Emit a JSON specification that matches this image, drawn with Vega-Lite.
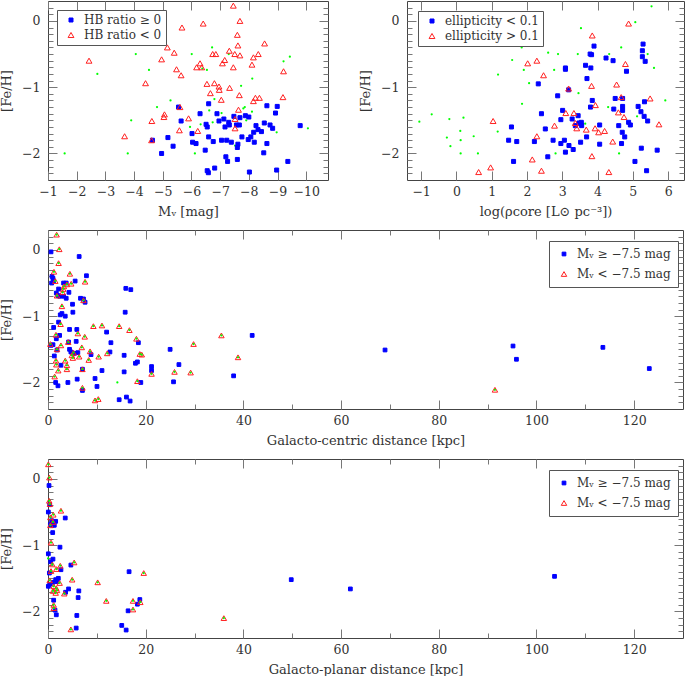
{
"$schema": "https://vega.github.io/schema/vega-lite/v6.json",
"padding": 0,
"background": "white",
"spacing": 10,
"resolve": {"scale": {"shape": "independent", "fill": "independent", "stroke": "independent", "size": "independent"}, "legend": {"shape": "independent", "fill": "independent", "stroke": "independent", "size": "independent"}},
"config": {
 "view": {"stroke": "#444", "strokeWidth": 1},
 "font": "DejaVu Serif",
 "axis": {"grid": false, "domain": false, "labelFont": "DejaVu Serif", "labelFontSize": 12.5, "labelColor": "#333", "titleFont": "DejaVu Serif", "titleFontSize": 13, "titleFontWeight": "normal", "titleColor": "#333", "tickColor": "#777", "labelPadding": 14, "titlePadding": 8, "labelOverlap": false, "labelFlush": false},
 "axisY": {"titlePadding": 8, "labelPadding": 17},
 "legend": {"labelFont": "DejaVu Serif", "labelFontSize": 12, "labelColor": "#333", "strokeColor": "#555", "fillColor": "#ffffff", "symbolStrokeWidth": 1}
},
"datasets": {
 "tl": [
  {"x":-5.55,"y":-1.30,"cls":"HB ratio ≥ 0"},{"x":-5.64,"y":-1.51,"cls":"HB ratio ≥ 0"},{"x":-5.18,"y":-1.76,"cls":"HB ratio ≥ 0"},{"x":-5.36,"y":-1.89,"cls":"HB ratio ≥ 0"},{"x":-4.96,"y":-2.00,"cls":"HB ratio ≥ 0"},{"x":-4.64,"y":-1.80,"cls":"HB ratio ≥ 0"},{"x":-6.30,"y":-1.40,"cls":"HB ratio ≥ 0"},{"x":-6.60,"y":-1.25,"cls":"HB ratio ≥ 0"},{"x":-6.51,"y":-1.56,"cls":"HB ratio ≥ 0"},{"x":-6.55,"y":-1.60,"cls":"HB ratio ≥ 0"},
  {"x":-6.02,"y":-1.70,"cls":"HB ratio ≥ 0"},{"x":-6.60,"y":-1.75,"cls":"HB ratio ≥ 0"},{"x":-6.04,"y":-1.83,"cls":"HB ratio ≥ 0"},{"x":-6.16,"y":-1.85,"cls":"HB ratio ≥ 0"},{"x":-6.48,"y":-1.95,"cls":"HB ratio ≥ 0"},{"x":-6.76,"y":-1.82,"cls":"HB ratio ≥ 0"},{"x":-6.89,"y":-1.40,"cls":"HB ratio ≥ 0"},{"x":-6.96,"y":-1.51,"cls":"HB ratio ≥ 0"},{"x":-7.13,"y":-1.48,"cls":"HB ratio ≥ 0"},{"x":-7.17,"y":-1.60,"cls":"HB ratio ≥ 0"},
  {"x":-7.30,"y":-1.53,"cls":"HB ratio ≥ 0"},{"x":-7.32,"y":-1.57,"cls":"HB ratio ≥ 0"},{"x":-7.48,"y":-1.44,"cls":"HB ratio ≥ 0"},{"x":-7.57,"y":-1.57,"cls":"HB ratio ≥ 0"},{"x":-7.67,"y":-1.57,"cls":"HB ratio ≥ 0"},{"x":-7.69,"y":-1.46,"cls":"HB ratio ≥ 0"},{"x":-7.88,"y":-1.43,"cls":"HB ratio ≥ 0"},{"x":-8.00,"y":-1.45,"cls":"HB ratio ≥ 0"},{"x":-7.05,"y":-1.80,"cls":"HB ratio ≥ 0"},{"x":-7.23,"y":-1.80,"cls":"HB ratio ≥ 0"},
  {"x":-7.76,"y":-1.75,"cls":"HB ratio ≥ 0"},{"x":-7.62,"y":-1.86,"cls":"HB ratio ≥ 0"},{"x":-7.60,"y":-1.91,"cls":"HB ratio ≥ 0"},{"x":-7.39,"y":-1.83,"cls":"HB ratio ≥ 0"},{"x":-7.20,"y":-2.05,"cls":"HB ratio ≥ 0"},{"x":-7.26,"y":-2.12,"cls":"HB ratio ≥ 0"},{"x":-7.60,"y":-2.09,"cls":"HB ratio ≥ 0"},{"x":-6.81,"y":-2.22,"cls":"HB ratio ≥ 0"},{"x":-6.55,"y":-2.26,"cls":"HB ratio ≥ 0"},{"x":-6.59,"y":-2.29,"cls":"HB ratio ≥ 0"},
  {"x":-8.02,"y":-2.28,"cls":"HB ratio ≥ 0"},{"x":-7.98,"y":-1.79,"cls":"HB ratio ≥ 0"},{"x":-8.07,"y":-1.75,"cls":"HB ratio ≥ 0"},{"x":-8.17,"y":-1.68,"cls":"HB ratio ≥ 0"},{"x":-8.25,"y":-1.58,"cls":"HB ratio ≥ 0"},{"x":-8.32,"y":-1.64,"cls":"HB ratio ≥ 0"},{"x":-8.44,"y":-1.67,"cls":"HB ratio ≥ 0"},{"x":-8.19,"y":-1.83,"cls":"HB ratio ≥ 0"},{"x":-8.63,"y":-1.85,"cls":"HB ratio ≥ 0"},{"x":-8.52,"y":-1.99,"cls":"HB ratio ≥ 0"},
  {"x":-8.54,"y":-1.54,"cls":"HB ratio ≥ 0"},{"x":-8.63,"y":-1.28,"cls":"HB ratio ≥ 0"},{"x":-8.99,"y":-1.29,"cls":"HB ratio ≥ 0"},{"x":-8.74,"y":-1.57,"cls":"HB ratio ≥ 0"},{"x":-8.83,"y":-1.62,"cls":"HB ratio ≥ 0"},{"x":-8.93,"y":-1.39,"cls":"HB ratio ≥ 0"},{"x":-8.97,"y":-2.25,"cls":"HB ratio ≥ 0"},{"x":-9.36,"y":-2.12,"cls":"HB ratio ≥ 0"},{"x":-9.79,"y":-1.58,"cls":"HB ratio ≥ 0"},
  {"x":-2.43,"y":-0.60,"cls":"HB ratio < 0"},{"x":-3.67,"y":-1.74,"cls":"HB ratio < 0"},{"x":-4.40,"y":-0.94,"cls":"HB ratio < 0"},{"x":-4.62,"y":-1.51,"cls":"HB ratio < 0"},{"x":-4.61,"y":-1.80,"cls":"HB ratio < 0"},{"x":-7.46,"y":0.23,"cls":"HB ratio < 0"},{"x":-6.41,"y":-0.04,"cls":"HB ratio < 0"},{"x":-7.69,"y":0.00,"cls":"HB ratio < 0"},{"x":-5.67,"y":-0.10,"cls":"HB ratio < 0"},{"x":-7.60,"y":-0.21,"cls":"HB ratio < 0"},
  {"x":-7.62,"y":-0.37,"cls":"HB ratio < 0"},{"x":-8.55,"y":-0.34,"cls":"HB ratio < 0"},{"x":-5.16,"y":-0.40,"cls":"HB ratio < 0"},{"x":-5.40,"y":-0.48,"cls":"HB ratio < 0"},{"x":-4.96,"y":-0.58,"cls":"HB ratio < 0"},{"x":-6.74,"y":-0.50,"cls":"HB ratio < 0"},{"x":-6.85,"y":-0.50,"cls":"HB ratio < 0"},{"x":-7.32,"y":-0.45,"cls":"HB ratio < 0"},{"x":-7.51,"y":-0.50,"cls":"HB ratio < 0"},{"x":-7.69,"y":-0.52,"cls":"HB ratio < 0"},
  {"x":-7.16,"y":-0.59,"cls":"HB ratio < 0"},{"x":-7.08,"y":-0.64,"cls":"HB ratio < 0"},{"x":-8.33,"y":-0.50,"cls":"HB ratio < 0"},{"x":-8.16,"y":-0.55,"cls":"HB ratio < 0"},{"x":-8.11,"y":-0.66,"cls":"HB ratio < 0"},{"x":-6.30,"y":-0.64,"cls":"HB ratio < 0"},{"x":-6.18,"y":-0.70,"cls":"HB ratio < 0"},{"x":-6.36,"y":-0.70,"cls":"HB ratio < 0"},{"x":-5.48,"y":-0.73,"cls":"HB ratio < 0"},{"x":-5.64,"y":-0.82,"cls":"HB ratio < 0"},
  {"x":-7.46,"y":-0.70,"cls":"HB ratio < 0"},{"x":-9.21,"y":-0.76,"cls":"HB ratio < 0"},{"x":-6.54,"y":-0.95,"cls":"HB ratio < 0"},{"x":-6.80,"y":-0.94,"cls":"HB ratio < 0"},{"x":-6.96,"y":-0.99,"cls":"HB ratio < 0"},{"x":-6.97,"y":-1.04,"cls":"HB ratio < 0"},{"x":-7.33,"y":-1.01,"cls":"HB ratio < 0"},{"x":-6.66,"y":-1.09,"cls":"HB ratio < 0"},{"x":-7.67,"y":-1.12,"cls":"HB ratio < 0"},{"x":-7.04,"y":-1.19,"cls":"HB ratio < 0"},
  {"x":-8.23,"y":-1.16,"cls":"HB ratio < 0"},{"x":-8.37,"y":-1.16,"cls":"HB ratio < 0"},{"x":-8.16,"y":-1.21,"cls":"HB ratio < 0"},{"x":-9.19,"y":-1.15,"cls":"HB ratio < 0"},{"x":-5.60,"y":-1.30,"cls":"HB ratio < 0"},{"x":-5.06,"y":-1.41,"cls":"HB ratio < 0"},{"x":-5.04,"y":-1.45,"cls":"HB ratio < 0"},{"x":-5.90,"y":-1.47,"cls":"HB ratio < 0"},{"x":-7.64,"y":-1.34,"cls":"HB ratio < 0"},{"x":-7.52,"y":-1.48,"cls":"HB ratio < 0"},
  {"x":-7.52,"y":-1.62,"cls":"HB ratio < 0"},{"x":-5.58,"y":-1.65,"cls":"HB ratio < 0"},{"x":-6.22,"y":-1.66,"cls":"HB ratio < 0"},
  {"x":-1.58,"y":-2.00,"cls":"none"},{"x":-2.72,"y":-0.80,"cls":"none"},{"x":-3.78,"y":-2.00,"cls":"none"},{"x":-3.90,"y":-1.50,"cls":"none"},{"x":-4.06,"y":-0.50,"cls":"none"},{"x":-4.52,"y":-0.74,"cls":"none"},{"x":-4.80,"y":-1.30,"cls":"none"},{"x":-5.27,"y":-1.20,"cls":"none"},{"x":-6.01,"y":-0.50,"cls":"none"},{"x":-6.72,"y":-0.40,"cls":"none"},
  {"x":-6.54,"y":-0.74,"cls":"none"},{"x":-6.38,"y":-0.72,"cls":"none"},{"x":-6.62,"y":-1.35,"cls":"none"},{"x":-6.80,"y":-1.18,"cls":"none"},{"x":-7.05,"y":-1.39,"cls":"none"},{"x":-6.74,"y":-1.53,"cls":"none"},{"x":-6.32,"y":-1.56,"cls":"none"},{"x":-5.95,"y":-1.60,"cls":"none"},{"x":-6.12,"y":-2.00,"cls":"none"},{"x":-7.30,"y":-0.50,"cls":"none"},
  {"x":-7.73,"y":-0.98,"cls":"none"},{"x":-8.12,"y":-0.87,"cls":"none"},{"x":-7.81,"y":-1.32,"cls":"none"},{"x":-7.86,"y":-1.30,"cls":"none"},{"x":-8.11,"y":-1.37,"cls":"none"},{"x":-7.91,"y":-1.50,"cls":"none"},{"x":-7.52,"y":-1.88,"cls":"none"},{"x":-8.97,"y":-1.68,"cls":"none"},{"x":-9.21,"y":-0.61,"cls":"none"},{"x":-9.43,"y":-0.54,"cls":"none"},
  {"x":-10.06,"y":-1.62,"cls":"none"}
 ],
 "tr": [
  {"x":1.56,"y":-1.60,"cls":"ellipticity < 0.1"},{"x":1.48,"y":-1.80,"cls":"ellipticity < 0.1"},{"x":1.71,"y":-1.82,"cls":"ellipticity < 0.1"},{"x":1.62,"y":-2.12,"cls":"ellipticity < 0.1"},{"x":2.32,"y":-0.95,"cls":"ellipticity < 0.1"},{"x":2.41,"y":-1.40,"cls":"ellipticity < 0.1"},{"x":2.52,"y":-1.63,"cls":"ellipticity < 0.1"},{"x":2.21,"y":-1.82,"cls":"ellipticity < 0.1"},{"x":2.59,"y":-2.05,"cls":"ellipticity < 0.1"},{"x":2.74,"y":-1.80,"cls":"ellipticity < 0.1"},
  {"x":2.87,"y":-1.13,"cls":"ellipticity < 0.1"},{"x":3.01,"y":-1.35,"cls":"ellipticity < 0.1"},{"x":2.96,"y":-1.49,"cls":"ellipticity < 0.1"},{"x":2.96,"y":-1.85,"cls":"ellipticity < 0.1"},{"x":3.06,"y":-1.80,"cls":"ellipticity < 0.1"},{"x":3.09,"y":-1.98,"cls":"ellipticity < 0.1"},{"x":3.09,"y":-0.71,"cls":"ellipticity < 0.1"},{"x":3.09,"y":-0.73,"cls":"ellipticity < 0.1"},{"x":3.18,"y":-1.04,"cls":"ellipticity < 0.1"},{"x":3.19,"y":-1.88,"cls":"ellipticity < 0.1"},
  {"x":3.28,"y":-1.48,"cls":"ellipticity < 0.1"},{"x":3.31,"y":-1.94,"cls":"ellipticity < 0.1"},{"x":3.45,"y":-1.43,"cls":"ellipticity < 0.1"},{"x":3.47,"y":-1.54,"cls":"ellipticity < 0.1"},{"x":3.52,"y":-1.55,"cls":"ellipticity < 0.1"},{"x":3.54,"y":-1.53,"cls":"ellipticity < 0.1"},{"x":3.37,"y":-1.58,"cls":"ellipticity < 0.1"},{"x":3.55,"y":-1.58,"cls":"ellipticity < 0.1"},{"x":3.52,"y":-1.83,"cls":"ellipticity < 0.1"},{"x":3.69,"y":-1.75,"cls":"ellipticity < 0.1"},
  {"x":3.66,"y":-0.67,"cls":"ellipticity < 0.1"},{"x":3.70,"y":-0.87,"cls":"ellipticity < 0.1"},{"x":3.79,"y":-0.50,"cls":"ellipticity < 0.1"},{"x":3.83,"y":-0.51,"cls":"ellipticity < 0.1"},{"x":3.81,"y":-0.71,"cls":"ellipticity < 0.1"},{"x":3.90,"y":-0.38,"cls":"ellipticity < 0.1"},{"x":3.80,"y":-1.30,"cls":"ellipticity < 0.1"},{"x":3.85,"y":-1.20,"cls":"ellipticity < 0.1"},{"x":4.06,"y":-1.57,"cls":"ellipticity < 0.1"},{"x":4.06,"y":-1.86,"cls":"ellipticity < 0.1"},
  {"x":4.24,"y":-0.56,"cls":"ellipticity < 0.1"},{"x":4.44,"y":-0.60,"cls":"ellipticity < 0.1"},{"x":4.46,"y":-1.33,"cls":"ellipticity < 0.1"},{"x":4.50,"y":-1.17,"cls":"ellipticity < 0.1"},{"x":4.71,"y":-1.17,"cls":"ellipticity < 0.1"},{"x":4.71,"y":-1.29,"cls":"ellipticity < 0.1"},{"x":4.71,"y":-1.35,"cls":"ellipticity < 0.1"},{"x":4.60,"y":-1.58,"cls":"ellipticity < 0.1"},{"x":4.70,"y":-1.68,"cls":"ellipticity < 0.1"},{"x":4.77,"y":-1.75,"cls":"ellipticity < 0.1"},
  {"x":4.68,"y":-1.85,"cls":"ellipticity < 0.1"},{"x":4.82,"y":-0.76,"cls":"ellipticity < 0.1"},{"x":4.88,"y":-1.53,"cls":"ellipticity < 0.1"},{"x":4.93,"y":-1.57,"cls":"ellipticity < 0.1"},{"x":5.15,"y":-1.29,"cls":"ellipticity < 0.1"},{"x":5.23,"y":-1.37,"cls":"ellipticity < 0.1"},{"x":5.33,"y":-1.22,"cls":"ellipticity < 0.1"},{"x":5.32,"y":-1.44,"cls":"ellipticity < 0.1"},{"x":5.42,"y":-1.51,"cls":"ellipticity < 0.1"},{"x":5.29,"y":-0.35,"cls":"ellipticity < 0.1"},
  {"x":5.27,"y":-0.45,"cls":"ellipticity < 0.1"},{"x":5.27,"y":-0.54,"cls":"ellipticity < 0.1"},{"x":5.35,"y":-0.61,"cls":"ellipticity < 0.1"},{"x":5.24,"y":-1.92,"cls":"ellipticity < 0.1"},{"x":5.06,"y":-2.12,"cls":"ellipticity < 0.1"},{"x":5.39,"y":-2.26,"cls":"ellipticity < 0.1"},{"x":5.69,"y":-1.95,"cls":"ellipticity < 0.1"},
  {"x":1.04,"y":-1.51,"cls":"ellipticity > 0.1"},{"x":0.63,"y":-2.28,"cls":"ellipticity > 0.1"},{"x":0.97,"y":-2.21,"cls":"ellipticity > 0.1"},{"x":2.02,"y":-0.64,"cls":"ellipticity > 0.1"},{"x":2.28,"y":-0.60,"cls":"ellipticity > 0.1"},{"x":2.47,"y":-0.82,"cls":"ellipticity > 0.1"},{"x":2.28,"y":-1.74,"cls":"ellipticity > 0.1"},{"x":2.15,"y":-2.09,"cls":"ellipticity > 0.1"},{"x":2.41,"y":-2.26,"cls":"ellipticity > 0.1"},{"x":2.78,"y":-1.58,"cls":"ellipticity > 0.1"},
  {"x":3.18,"y":-1.02,"cls":"ellipticity > 0.1"},{"x":3.10,"y":-1.39,"cls":"ellipticity > 0.1"},{"x":3.33,"y":-1.39,"cls":"ellipticity > 0.1"},{"x":3.37,"y":-1.54,"cls":"ellipticity > 0.1"},{"x":3.41,"y":-1.62,"cls":"ellipticity > 0.1"},{"x":3.68,"y":-1.64,"cls":"ellipticity > 0.1"},{"x":3.85,"y":-0.22,"cls":"ellipticity > 0.1"},{"x":3.83,"y":-0.98,"cls":"ellipticity > 0.1"},{"x":3.94,"y":-1.27,"cls":"ellipticity > 0.1"},{"x":3.93,"y":-1.62,"cls":"ellipticity > 0.1"},
  {"x":4.03,"y":-1.68,"cls":"ellipticity > 0.1"},{"x":4.20,"y":-1.66,"cls":"ellipticity > 0.1"},{"x":3.84,"y":-2.04,"cls":"ellipticity > 0.1"},{"x":4.43,"y":-1.82,"cls":"ellipticity > 0.1"},{"x":4.32,"y":-2.28,"cls":"ellipticity > 0.1"},{"x":4.54,"y":-0.96,"cls":"ellipticity > 0.1"},{"x":4.59,"y":-1.38,"cls":"ellipticity > 0.1"},{"x":4.67,"y":-1.15,"cls":"ellipticity > 0.1"},{"x":4.75,"y":-1.45,"cls":"ellipticity > 0.1"},{"x":4.79,"y":-0.65,"cls":"ellipticity > 0.1"},
  {"x":4.88,"y":-0.04,"cls":"ellipticity > 0.1"},{"x":5.49,"y":-1.17,"cls":"ellipticity > 0.1"},{"x":5.74,"y":-1.56,"cls":"ellipticity > 0.1"},
  {"x":-1.05,"y":-1.52,"cls":"none"},{"x":-0.70,"y":-1.41,"cls":"none"},{"x":-0.20,"y":-1.48,"cls":"none"},{"x":-0.27,"y":-1.76,"cls":"none"},{"x":-0.17,"y":-1.89,"cls":"none"},{"x":0.11,"y":-1.66,"cls":"none"},{"x":0.12,"y":-1.80,"cls":"none"},{"x":0.12,"y":-2.00,"cls":"none"},{"x":0.20,"y":-1.46,"cls":"none"},{"x":0.49,"y":-1.74,"cls":"none"},
  {"x":0.61,"y":-2.00,"cls":"none"},{"x":1.17,"y":-1.67,"cls":"none"},{"x":1.18,"y":-0.81,"cls":"none"},{"x":1.58,"y":-0.59,"cls":"none"},{"x":1.85,"y":-0.40,"cls":"none"},{"x":1.91,"y":-0.74,"cls":"none"},{"x":2.06,"y":-0.94,"cls":"none"},{"x":1.86,"y":-1.25,"cls":"none"},{"x":2.60,"y":-0.48,"cls":"none"},{"x":2.88,"y":-0.50,"cls":"none"},
  {"x":2.77,"y":-0.74,"cls":"none"},{"x":2.81,"y":-2.00,"cls":"none"},{"x":3.44,"y":-0.50,"cls":"none"},{"x":3.46,"y":-1.09,"cls":"none"},{"x":3.53,"y":-0.11,"cls":"none"},{"x":3.65,"y":-1.55,"cls":"none"},{"x":4.33,"y":-0.50,"cls":"none"},{"x":4.30,"y":-1.30,"cls":"none"},{"x":4.67,"y":-0.40,"cls":"none"},{"x":4.61,"y":-2.00,"cls":"none"},
  {"x":5.12,"y":-1.44,"cls":"none"},{"x":5.07,"y":-0.02,"cls":"none"},{"x":5.42,"y":-0.50,"cls":"none"},{"x":5.53,"y":0.22,"cls":"none"},{"x":5.60,"y":-0.71,"cls":"none"},{"x":5.92,"y":-1.20,"cls":"none"}
 ],
 "gc": [
  {"x":0.62,"y":-0.03,"cls":"Mᵥ ≥ −7.5 mag"},{"x":6.38,"y":-0.10,"cls":"Mᵥ ≥ −7.5 mag"},{"x":7.87,"y":-0.39,"cls":"Mᵥ ≥ −7.5 mag"},{"x":0.82,"y":-0.40,"cls":"Mᵥ ≥ −7.5 mag"},{"x":1.02,"y":-0.43,"cls":"Mᵥ ≥ −7.5 mag"},{"x":1.16,"y":-0.47,"cls":"Mᵥ ≥ −7.5 mag"},{"x":0.75,"y":-0.50,"cls":"Mᵥ ≥ −7.5 mag"},{"x":3.19,"y":-0.50,"cls":"Mᵥ ≥ −7.5 mag"},{"x":3.73,"y":-0.50,"cls":"Mᵥ ≥ −7.5 mag"},{"x":5.56,"y":-0.47,"cls":"Mᵥ ≥ −7.5 mag"},
  {"x":2.17,"y":-0.59,"cls":"Mᵥ ≥ −7.5 mag"},{"x":1.70,"y":-0.65,"cls":"Mᵥ ≥ −7.5 mag"},{"x":4.28,"y":-0.64,"cls":"Mᵥ ≥ −7.5 mag"},{"x":2.04,"y":-0.69,"cls":"Mᵥ ≥ −7.5 mag"},{"x":2.38,"y":-0.70,"cls":"Mᵥ ≥ −7.5 mag"},{"x":3.19,"y":-0.70,"cls":"Mᵥ ≥ −7.5 mag"},{"x":3.73,"y":-0.73,"cls":"Mᵥ ≥ −7.5 mag"},{"x":6.65,"y":-0.73,"cls":"Mᵥ ≥ −7.5 mag"},{"x":7.26,"y":-0.74,"cls":"Mᵥ ≥ −7.5 mag"},{"x":7.59,"y":-0.79,"cls":"Mᵥ ≥ −7.5 mag"},
  {"x":5.02,"y":-0.82,"cls":"Mᵥ ≥ −7.5 mag"},{"x":2.51,"y":-0.98,"cls":"Mᵥ ≥ −7.5 mag"},{"x":2.85,"y":-0.96,"cls":"Mᵥ ≥ −7.5 mag"},{"x":3.53,"y":-1.00,"cls":"Mᵥ ≥ −7.5 mag"},{"x":5.09,"y":-0.94,"cls":"Mᵥ ≥ −7.5 mag"},{"x":2.17,"y":-1.09,"cls":"Mᵥ ≥ −7.5 mag"},{"x":1.16,"y":-1.17,"cls":"Mᵥ ≥ −7.5 mag"},{"x":4.41,"y":-1.20,"cls":"Mᵥ ≥ −7.5 mag"},{"x":5.90,"y":-1.20,"cls":"Mᵥ ≥ −7.5 mag"},{"x":12.0,"y":-1.24,"cls":"Mᵥ ≥ −7.5 mag"},
  {"x":2.38,"y":-1.29,"cls":"Mᵥ ≥ −7.5 mag"},{"x":1.70,"y":-1.34,"cls":"Mᵥ ≥ −7.5 mag"},{"x":4.21,"y":-1.39,"cls":"Mᵥ ≥ −7.5 mag"},{"x":5.77,"y":-1.38,"cls":"Mᵥ ≥ −7.5 mag"},{"x":12.88,"y":-1.40,"cls":"Mᵥ ≥ −7.5 mag"},{"x":1.02,"y":-1.43,"cls":"Mᵥ ≥ −7.5 mag"},{"x":0.62,"y":-1.44,"cls":"Mᵥ ≥ −7.5 mag"},{"x":4.41,"y":-1.50,"cls":"Mᵥ ≥ −7.5 mag"},{"x":4.68,"y":-1.54,"cls":"Mᵥ ≥ −7.5 mag"},{"x":6.11,"y":-1.55,"cls":"Mᵥ ≥ −7.5 mag"},
  {"x":12.68,"y":-1.54,"cls":"Mᵥ ≥ −7.5 mag"},{"x":1.84,"y":-1.51,"cls":"Mᵥ ≥ −7.5 mag"},{"x":1.29,"y":-1.60,"cls":"Mᵥ ≥ −7.5 mag"},{"x":5.09,"y":-1.56,"cls":"Mᵥ ≥ −7.5 mag"},{"x":5.43,"y":-1.56,"cls":"Mᵥ ≥ −7.5 mag"},{"x":8.81,"y":-1.58,"cls":"Mᵥ ≥ −7.5 mag"},{"x":2.65,"y":-1.74,"cls":"Mᵥ ≥ −7.5 mag"},{"x":7.05,"y":-1.80,"cls":"Mᵥ ≥ −7.5 mag"},{"x":11.05,"y":-1.82,"cls":"Mᵥ ≥ −7.5 mag"},{"x":15.59,"y":-1.84,"cls":"Mᵥ ≥ −7.5 mag"},
  {"x":15.8,"y":-0.94,"cls":"Mᵥ ≥ −7.5 mag"},{"x":15.93,"y":-0.58,"cls":"Mᵥ ≥ −7.5 mag"},{"x":16.95,"y":-0.60,"cls":"Mᵥ ≥ −7.5 mag"},{"x":18.5,"y":-1.40,"cls":"Mᵥ ≥ −7.5 mag"},{"x":18.3,"y":-1.69,"cls":"Mᵥ ≥ −7.5 mag"},{"x":17.9,"y":-1.71,"cls":"Mᵥ ≥ −7.5 mag"},{"x":15.59,"y":-1.59,"cls":"Mᵥ ≥ −7.5 mag"},{"x":21.2,"y":-1.76,"cls":"Mᵥ ≥ −7.5 mag"},{"x":21.2,"y":-1.82,"cls":"Mᵥ ≥ −7.5 mag"},{"x":19.0,"y":-2.0,"cls":"Mᵥ ≥ −7.5 mag"},
  {"x":1.57,"y":-2.0,"cls":"Mᵥ ≥ −7.5 mag"},{"x":2.04,"y":-2.05,"cls":"Mᵥ ≥ −7.5 mag"},{"x":4.07,"y":-2.0,"cls":"Mᵥ ≥ −7.5 mag"},{"x":5.97,"y":-1.95,"cls":"Mᵥ ≥ −7.5 mag"},{"x":9.63,"y":-1.94,"cls":"Mᵥ ≥ −7.5 mag"},{"x":10.03,"y":-2.06,"cls":"Mᵥ ≥ −7.5 mag"},{"x":7.05,"y":-2.12,"cls":"Mᵥ ≥ −7.5 mag"},{"x":14.57,"y":-2.26,"cls":"Mᵥ ≥ −7.5 mag"},{"x":16.06,"y":-2.22,"cls":"Mᵥ ≥ −7.5 mag"},{"x":16.81,"y":-2.28,"cls":"Mᵥ ≥ −7.5 mag"},
  {"x":25.0,"y":-1.50,"cls":"Mᵥ ≥ −7.5 mag"},{"x":26.8,"y":-1.73,"cls":"Mᵥ ≥ −7.5 mag"},{"x":25.7,"y":-1.99,"cls":"Mᵥ ≥ −7.5 mag"},{"x":38.0,"y":-1.90,"cls":"Mᵥ ≥ −7.5 mag"},{"x":41.8,"y":-1.29,"cls":"Mᵥ ≥ −7.5 mag"},{"x":69.0,"y":-1.51,"cls":"Mᵥ ≥ −7.5 mag"},{"x":95.2,"y":-1.45,"cls":"Mᵥ ≥ −7.5 mag"},{"x":95.9,"y":-1.65,"cls":"Mᵥ ≥ −7.5 mag"},{"x":113.6,"y":-1.47,"cls":"Mᵥ ≥ −7.5 mag"},{"x":123.1,"y":-1.79,"cls":"Mᵥ ≥ −7.5 mag"},
  {"x":1.77,"y":0.23,"cls":"Mᵥ < −7.5 mag"},{"x":2.31,"y":0.01,"cls":"Mᵥ < −7.5 mag"},{"x":2.17,"y":-0.20,"cls":"Mᵥ < −7.5 mag"},{"x":1.22,"y":-0.33,"cls":"Mᵥ < −7.5 mag"},{"x":4.48,"y":-0.36,"cls":"Mᵥ < −7.5 mag"},{"x":7.59,"y":-0.48,"cls":"Mᵥ < −7.5 mag"},{"x":1.50,"y":-0.47,"cls":"Mᵥ < −7.5 mag"},{"x":3.26,"y":-0.55,"cls":"Mᵥ < −7.5 mag"},{"x":3.87,"y":-0.52,"cls":"Mᵥ < −7.5 mag"},{"x":4.75,"y":-0.51,"cls":"Mᵥ < −7.5 mag"},
  {"x":3.12,"y":-0.59,"cls":"Mᵥ < −7.5 mag"},{"x":3.0,"y":-0.64,"cls":"Mᵥ < −7.5 mag"},{"x":1.84,"y":-0.69,"cls":"Mᵥ < −7.5 mag"},{"x":7.26,"y":-0.76,"cls":"Mᵥ < −7.5 mag"},{"x":2.85,"y":-0.85,"cls":"Mᵥ < −7.5 mag"},{"x":2.58,"y":-1.12,"cls":"Mᵥ < −7.5 mag"},{"x":9.29,"y":-1.15,"cls":"Mᵥ < −7.5 mag"},{"x":11.05,"y":-1.14,"cls":"Mᵥ < −7.5 mag"},{"x":14.57,"y":-1.15,"cls":"Mᵥ < −7.5 mag"},{"x":16.67,"y":-1.21,"cls":"Mᵥ < −7.5 mag"},
  {"x":6.11,"y":-1.26,"cls":"Mᵥ < −7.5 mag"},{"x":7.52,"y":-1.31,"cls":"Mᵥ < −7.5 mag"},{"x":1.63,"y":-1.28,"cls":"Mᵥ < −7.5 mag"},{"x":18.1,"y":-1.34,"cls":"Mᵥ < −7.5 mag"},{"x":0.48,"y":-1.42,"cls":"Mᵥ < −7.5 mag"},{"x":2.65,"y":-1.44,"cls":"Mᵥ < −7.5 mag"},{"x":4.14,"y":-1.39,"cls":"Mᵥ < −7.5 mag"},{"x":6.92,"y":-1.47,"cls":"Mᵥ < −7.5 mag"},{"x":1.84,"y":-1.50,"cls":"Mᵥ < −7.5 mag"},{"x":8.61,"y":-1.53,"cls":"Mᵥ < −7.5 mag"},
  {"x":10.37,"y":-1.61,"cls":"Mᵥ < −7.5 mag"},{"x":12.13,"y":-1.56,"cls":"Mᵥ < −7.5 mag"},{"x":8.34,"y":-1.66,"cls":"Mᵥ < −7.5 mag"},{"x":6.38,"y":-1.61,"cls":"Mᵥ < −7.5 mag"},{"x":4.88,"y":-1.59,"cls":"Mᵥ < −7.5 mag"},{"x":5.22,"y":-1.55,"cls":"Mᵥ < −7.5 mag"},{"x":5.09,"y":-1.63,"cls":"Mᵥ < −7.5 mag"},{"x":3.53,"y":-1.67,"cls":"Mᵥ < −7.5 mag"},{"x":1.63,"y":-1.67,"cls":"Mᵥ < −7.5 mag"},{"x":1.70,"y":-1.73,"cls":"Mᵥ < −7.5 mag"},
  {"x":3.87,"y":-1.74,"cls":"Mᵥ < −7.5 mag"},{"x":2.10,"y":-1.82,"cls":"Mᵥ < −7.5 mag"},{"x":3.87,"y":-1.80,"cls":"Mᵥ < −7.5 mag"},{"x":7.05,"y":-1.80,"cls":"Mᵥ < −7.5 mag"},{"x":18.8,"y":-1.57,"cls":"Mᵥ < −7.5 mag"},{"x":19.2,"y":-1.58,"cls":"Mᵥ < −7.5 mag"},{"x":1.36,"y":-1.91,"cls":"Mᵥ < −7.5 mag"},{"x":7.05,"y":-2.08,"cls":"Mᵥ < −7.5 mag"},{"x":9.63,"y":-2.27,"cls":"Mᵥ < −7.5 mag"},{"x":10.30,"y":-2.25,"cls":"Mᵥ < −7.5 mag"},
  {"x":21.2,"y":-1.87,"cls":"Mᵥ < −7.5 mag"},{"x":18.3,"y":-1.98,"cls":"Mᵥ < −7.5 mag"},{"x":25.9,"y":-1.84,"cls":"Mᵥ < −7.5 mag"},{"x":29.2,"y":-1.85,"cls":"Mᵥ < −7.5 mag"},{"x":29.8,"y":-1.42,"cls":"Mᵥ < −7.5 mag"},{"x":35.5,"y":-1.29,"cls":"Mᵥ < −7.5 mag"},{"x":38.9,"y":-1.62,"cls":"Mᵥ < −7.5 mag"},{"x":91.5,"y":-2.11,"cls":"Mᵥ < −7.5 mag"},
  {"x":14.2,"y":-2.0,"cls":"none"}
 ],
 "gp": [
  {"x":0.21,"y":-0.10,"cls":"Mᵥ ≥ −7.5 mag"},{"x":0.35,"y":-0.39,"cls":"Mᵥ ≥ −7.5 mag"},{"x":0.07,"y":-0.50,"cls":"Mᵥ ≥ −7.5 mag"},{"x":3.53,"y":-0.59,"cls":"Mᵥ ≥ −7.5 mag"},{"x":0.75,"y":-0.63,"cls":"Mᵥ ≥ −7.5 mag"},{"x":1.57,"y":-0.64,"cls":"Mᵥ ≥ −7.5 mag"},{"x":0.48,"y":-0.69,"cls":"Mᵥ ≥ −7.5 mag"},{"x":0.89,"y":-0.70,"cls":"Mᵥ ≥ −7.5 mag"},{"x":1.29,"y":-0.70,"cls":"Mᵥ ≥ −7.5 mag"},{"x":0.96,"y":-0.81,"cls":"Mᵥ ≥ −7.5 mag"},
  {"x":0.07,"y":-1.13,"cls":"Mᵥ ≥ −7.5 mag"},{"x":1.02,"y":-1.21,"cls":"Mᵥ ≥ −7.5 mag"},{"x":0.55,"y":-1.25,"cls":"Mᵥ ≥ −7.5 mag"},{"x":2.45,"y":-1.03,"cls":"Mᵥ ≥ −7.5 mag"},{"x":4.68,"y":-1.30,"cls":"Mᵥ ≥ −7.5 mag"},{"x":2.65,"y":-1.37,"cls":"Mᵥ ≥ −7.5 mag"},{"x":0.28,"y":-1.42,"cls":"Mᵥ ≥ −7.5 mag"},{"x":1.57,"y":-1.52,"cls":"Mᵥ ≥ −7.5 mag"},{"x":0.35,"y":-1.59,"cls":"Mᵥ ≥ −7.5 mag"},{"x":0.07,"y":-1.62,"cls":"Mᵥ ≥ −7.5 mag"},
  {"x":1.02,"y":-1.56,"cls":"Mᵥ ≥ −7.5 mag"},{"x":2.11,"y":-1.50,"cls":"Mᵥ ≥ −7.5 mag"},{"x":1.84,"y":-1.55,"cls":"Mᵥ ≥ −7.5 mag"},{"x":3.60,"y":-1.71,"cls":"Mᵥ ≥ −7.5 mag"},{"x":4.21,"y":-1.66,"cls":"Mᵥ ≥ −7.5 mag"},{"x":6.17,"y":-1.79,"cls":"Mᵥ ≥ −7.5 mag"},{"x":6.31,"y":-1.69,"cls":"Mᵥ ≥ −7.5 mag"},{"x":1.16,"y":-1.83,"cls":"Mᵥ ≥ −7.5 mag"},{"x":1.70,"y":-2.05,"cls":"Mᵥ ≥ −7.5 mag"},{"x":1.43,"y":-1.98,"cls":"Mᵥ ≥ −7.5 mag"},
  {"x":5.90,"y":-2.06,"cls":"Mᵥ ≥ −7.5 mag"},{"x":5.77,"y":-2.25,"cls":"Mᵥ ≥ −7.5 mag"},{"x":16.6,"y":-1.40,"cls":"Mᵥ ≥ −7.5 mag"},{"x":16.4,"y":-1.99,"cls":"Mᵥ ≥ −7.5 mag"},{"x":18.3,"y":-1.89,"cls":"Mᵥ ≥ −7.5 mag"},{"x":18.8,"y":-1.82,"cls":"Mᵥ ≥ −7.5 mag"},{"x":15.1,"y":-2.21,"cls":"Mᵥ ≥ −7.5 mag"},{"x":16.0,"y":-2.28,"cls":"Mᵥ ≥ −7.5 mag"},{"x":49.8,"y":-1.52,"cls":"Mᵥ ≥ −7.5 mag"},{"x":61.9,"y":-1.66,"cls":"Mᵥ ≥ −7.5 mag"},
  {"x":103.7,"y":-1.47,"cls":"Mᵥ ≥ −7.5 mag"},
  {"x":0.07,"y":0.22,"cls":"Mᵥ < −7.5 mag"},{"x":0.28,"y":0.02,"cls":"Mᵥ < −7.5 mag"},{"x":0.25,"y":-0.33,"cls":"Mᵥ < −7.5 mag"},{"x":0.40,"y":-0.38,"cls":"Mᵥ < −7.5 mag"},{"x":2.65,"y":-0.48,"cls":"Mᵥ < −7.5 mag"},{"x":1.09,"y":-0.54,"cls":"Mᵥ < −7.5 mag"},{"x":0.48,"y":-0.58,"cls":"Mᵥ < −7.5 mag"},{"x":1.02,"y":-0.65,"cls":"Mᵥ < −7.5 mag"},{"x":0.48,"y":-0.70,"cls":"Mᵥ < −7.5 mag"},{"x":0.62,"y":-0.96,"cls":"Mᵥ < −7.5 mag"},
  {"x":0.89,"y":-1.29,"cls":"Mᵥ < −7.5 mag"},{"x":2.51,"y":-1.31,"cls":"Mᵥ < −7.5 mag"},{"x":5.36,"y":-1.26,"cls":"Mᵥ < −7.5 mag"},{"x":1.70,"y":-1.36,"cls":"Mᵥ < −7.5 mag"},{"x":0.62,"y":-1.39,"cls":"Mᵥ < −7.5 mag"},{"x":0.35,"y":-1.53,"cls":"Mᵥ < −7.5 mag"},{"x":4.95,"y":-1.52,"cls":"Mᵥ < −7.5 mag"},{"x":2.38,"y":-1.57,"cls":"Mᵥ < −7.5 mag"},{"x":10.17,"y":-1.56,"cls":"Mᵥ < −7.5 mag"},{"x":1.16,"y":-1.62,"cls":"Mᵥ < −7.5 mag"},
  {"x":1.70,"y":-1.65,"cls":"Mᵥ < −7.5 mag"},{"x":1.84,"y":-1.68,"cls":"Mᵥ < −7.5 mag"},{"x":1.02,"y":-1.69,"cls":"Mᵥ < −7.5 mag"},{"x":1.57,"y":-1.72,"cls":"Mᵥ < −7.5 mag"},{"x":3.33,"y":-1.73,"cls":"Mᵥ < −7.5 mag"},{"x":11.93,"y":-1.84,"cls":"Mᵥ < −7.5 mag"},{"x":1.16,"y":-1.90,"cls":"Mᵥ < −7.5 mag"},{"x":1.16,"y":-1.95,"cls":"Mᵥ < −7.5 mag"},{"x":4.68,"y":-2.27,"cls":"Mᵥ < −7.5 mag"},{"x":19.6,"y":-1.42,"cls":"Mᵥ < −7.5 mag"},
  {"x":17.4,"y":-1.84,"cls":"Mᵥ < −7.5 mag"},{"x":17.4,"y":-1.97,"cls":"Mᵥ < −7.5 mag"},{"x":18.9,"y":-1.86,"cls":"Mᵥ < −7.5 mag"},{"x":36.0,"y":-2.10,"cls":"Mᵥ < −7.5 mag"},
  {"x":0.02,"y":-1.20,"cls":"none"}
 ]
},
"vconcat": [
 {"bounds": "flush", "spacing": 79,
  "resolve": {"scale": {"shape": "independent", "fill": "independent", "stroke": "independent", "size": "independent"}, "legend": {"shape": "independent", "fill": "independent", "stroke": "independent", "size": "independent"}},
  "hconcat": [
  {"width": 280, "height": 179, "data": {"name": "tl"},
   "resolve": {"axis": {"x": "independent", "y": "independent"}},
   "layer": [
    {"transform": [{"filter": "datum.cls === 'none'"}],
     "mark": {"type": "circle", "size": 5, "color": "#00ff00", "opacity": 1},
     "encoding": {
      "x": {"field": "x", "type": "quantitative", "title": "Mᵥ [mag]", "scale": {"domain": [-1, -10.76], "nice": false, "zero": false}, "axis": {"orient": "bottom", "values": [-1,-2,-3,-4,-5,-6,-7,-8,-9,-10], "tickSize": -9, "format": "d"}},
      "y": {"field": "y", "type": "quantitative", "title": "[Fe/H]", "scale": {"domain": [-2.4, 0.3], "nice": false, "zero": false}, "axis": {"orient": "left", "values": [0,-1,-2], "format": "d", "tickSize": -9}}
     }},
    {"transform": [{"filter": "datum.cls !== 'none'"}],
     "mark": {"type": "point", "opacity": 1, "strokeWidth": 1},
     "encoding": {
      "x": {"field": "x", "type": "quantitative", "scale": {"domain": [-1, -10.76], "nice": false, "zero": false}, "axis": {"orient": "top", "values": [-1,-2,-3,-4,-5,-6,-7,-8,-9,-10], "tickSize": -9, "labels": false, "title": null}},
      "y": {"field": "y", "type": "quantitative", "scale": {"domain": [-2.4, 0.3], "nice": false, "zero": false}, "axis": {"orient": "right", "values": [0.2,0.1,0,-0.1,-0.2,-0.3,-0.4,-0.5,-0.6,-0.7,-0.8,-0.9,-1,-1.1,-1.2,-1.3,-1.4,-1.5,-1.6,-1.7,-1.8,-1.9,-2,-2.1,-2.2,-2.3], "labels": false, "title": null, "tickSize": {"condition": {"test": "datum.value % 1 === 0", "value": -9}, "value": -5}}},
      "shape": {"field": "cls", "type": "nominal", "scale": {"domain": ["HB ratio ≥ 0", "HB ratio < 0"], "range": ["square", "triangle-up"]}, "legend": {"title": null, "orient": "none", "legendX": 9, "legendY": 9, "padding": 4, "rowPadding": 3, "symbolOffset": 4, "labelOffset": 7}},
      "fill": {"field": "cls", "type": "nominal", "scale": {"domain": ["HB ratio ≥ 0", "HB ratio < 0"], "range": ["#0000ff", "transparent"]}},
      "stroke": {"field": "cls", "type": "nominal", "scale": {"domain": ["HB ratio ≥ 0", "HB ratio < 0"], "range": ["#0000ff", "#ff2020"]}},
      "size": {"field": "cls", "type": "nominal", "scale": {"domain": ["HB ratio ≥ 0", "HB ratio < 0"], "range": [16, 34]}}
     }},
    {"mark": {"type": "point", "opacity": 0},
     "encoding": {
      "x": {"field": "x", "type": "quantitative", "scale": {"domain": [-1, -10.76], "nice": false, "zero": false}, "axis": null},
      "y": {"field": "y", "type": "quantitative", "scale": {"domain": [-2.4, 0.3], "nice": false, "zero": false}, "axis": {"orient": "left", "values": [0.2,0.1,-0.1,-0.2,-0.3,-0.4,-0.5,-0.6,-0.7,-0.8,-0.9,-1.1,-1.2,-1.3,-1.4,-1.5,-1.6,-1.7,-1.8,-1.9,-2.1,-2.2,-2.3], "labels": false, "title": null, "tickSize": -5}}
     }}
   ]},
  {"width": 277, "height": 179, "data": {"name": "tr"},
   "resolve": {"axis": {"x": "independent", "y": "independent"}},
   "layer": [
    {"transform": [{"filter": "datum.cls === 'none'"}],
     "mark": {"type": "circle", "size": 5, "color": "#00ff00", "opacity": 1},
     "encoding": {
      "x": {"field": "x", "type": "quantitative", "title": "log(ρcore [L⊙ pc⁻³])", "scale": {"domain": [-1.4, 6.45], "nice": false, "zero": false}, "axis": {"orient": "bottom", "values": [-1,0,1,2,3,4,5,6], "tickSize": -9, "format": "d"}},
      "y": {"field": "y", "type": "quantitative", "title": "[Fe/H]", "scale": {"domain": [-2.4, 0.3], "nice": false, "zero": false}, "axis": {"orient": "left", "values": [0,-1,-2], "format": "d", "tickSize": -9}}
     }},
    {"transform": [{"filter": "datum.cls !== 'none'"}],
     "mark": {"type": "point", "opacity": 1, "strokeWidth": 1},
     "encoding": {
      "x": {"field": "x", "type": "quantitative", "scale": {"domain": [-1.4, 6.45], "nice": false, "zero": false}, "axis": {"orient": "top", "values": [-1,0,1,2,3,4,5,6], "tickSize": -9, "labels": false, "title": null}},
      "y": {"field": "y", "type": "quantitative", "scale": {"domain": [-2.4, 0.3], "nice": false, "zero": false}, "axis": {"orient": "right", "values": [0.2,0.1,0,-0.1,-0.2,-0.3,-0.4,-0.5,-0.6,-0.7,-0.8,-0.9,-1,-1.1,-1.2,-1.3,-1.4,-1.5,-1.6,-1.7,-1.8,-1.9,-2,-2.1,-2.2,-2.3], "labels": false, "title": null, "tickSize": {"condition": {"test": "datum.value % 1 === 0", "value": -9}, "value": -5}}},
      "shape": {"field": "cls", "type": "nominal", "scale": {"domain": ["ellipticity < 0.1", "ellipticity > 0.1"], "range": ["square", "triangle-up"]}, "legend": {"title": null, "orient": "none", "legendX": 11, "legendY": 10, "padding": 4, "rowPadding": 3, "symbolOffset": 4, "labelOffset": 7}},
      "fill": {"field": "cls", "type": "nominal", "scale": {"domain": ["ellipticity < 0.1", "ellipticity > 0.1"], "range": ["#0000ff", "transparent"]}},
      "stroke": {"field": "cls", "type": "nominal", "scale": {"domain": ["ellipticity < 0.1", "ellipticity > 0.1"], "range": ["#0000ff", "#ff2020"]}},
      "size": {"field": "cls", "type": "nominal", "scale": {"domain": ["ellipticity < 0.1", "ellipticity > 0.1"], "range": [16, 34]}}
     }},
    {"mark": {"type": "point", "opacity": 0},
     "encoding": {
      "x": {"field": "x", "type": "quantitative", "scale": {"domain": [-1.4, 6.45], "nice": false, "zero": false}, "axis": null},
      "y": {"field": "y", "type": "quantitative", "scale": {"domain": [-2.4, 0.3], "nice": false, "zero": false}, "axis": {"orient": "left", "values": [0.2,0.1,-0.1,-0.2,-0.3,-0.4,-0.5,-0.6,-0.7,-0.8,-0.9,-1.1,-1.2,-1.3,-1.4,-1.5,-1.6,-1.7,-1.8,-1.9,-2.1,-2.2,-2.3], "labels": false, "title": null, "tickSize": -5}}
     }}
   ]}
 ]},
 {"width": 635, "height": 179, "data": {"name": "gc"},
  "resolve": {"axis": {"x": "independent", "y": "independent"}},
  "layer": [
   {"transform": [{"filter": "datum.cls !== 'none'"}],
    "mark": {"type": "point", "opacity": 1, "strokeWidth": 1},
    "encoding": {
     "x": {"field": "x", "type": "quantitative", "title": "Galacto-centric distance [kpc]", "scale": {"domain": [0, 130], "nice": false, "zero": false}, "axis": {"orient": "bottom", "values": [0,20,40,60,80,100,120], "format": "d", "tickSize": -9}},
     "y": {"field": "y", "type": "quantitative", "title": "[Fe/H]", "scale": {"domain": [-2.4, 0.3], "nice": false, "zero": false}, "axis": {"orient": "left", "values": [0,-1,-2], "format": "d", "tickSize": -9}},
     "shape": {"field": "cls", "type": "nominal", "scale": {"domain": ["Mᵥ ≥ −7.5 mag", "Mᵥ < −7.5 mag"], "range": ["square", "triangle-up"]}, "legend": {"title": null, "orient": "none", "legendX": 501, "legendY": 11, "padding": 7, "rowPadding": 8, "symbolOffset": 2, "labelOffset": 7}},
     "fill": {"field": "cls", "type": "nominal", "scale": {"domain": ["Mᵥ ≥ −7.5 mag", "Mᵥ < −7.5 mag"], "range": ["#0000ff", "transparent"]}},
     "stroke": {"field": "cls", "type": "nominal", "scale": {"domain": ["Mᵥ ≥ −7.5 mag", "Mᵥ < −7.5 mag"], "range": ["#0000ff", "#ff2020"]}},
     "size": {"field": "cls", "type": "nominal", "scale": {"domain": ["Mᵥ ≥ −7.5 mag", "Mᵥ < −7.5 mag"], "range": [14, 30]}}
    }},
   {"transform": [{"filter": "datum.cls !== 'Mᵥ ≥ −7.5 mag'"}],
    "mark": {"type": "circle", "size": 5, "color": "#00ff00", "opacity": 1},
    "encoding": {
     "x": {"field": "x", "type": "quantitative", "scale": {"domain": [0, 130], "nice": false, "zero": false}, "axis": {"orient": "top", "values": [0,10,20,30,40,50,60,70,80,90,100,110,120], "labels": false, "title": null, "tickSize": {"condition": {"test": "datum.value % 20 === 0", "value": -9}, "value": -5}}},
     "y": {"field": "y", "type": "quantitative", "scale": {"domain": [-2.4, 0.3], "nice": false, "zero": false}, "axis": {"orient": "right", "values": [0.2,0.1,0,-0.1,-0.2,-0.3,-0.4,-0.5,-0.6,-0.7,-0.8,-0.9,-1,-1.1,-1.2,-1.3,-1.4,-1.5,-1.6,-1.7,-1.8,-1.9,-2,-2.1,-2.2,-2.3], "labels": false, "title": null, "tickSize": {"condition": {"test": "datum.value % 1 === 0", "value": -9}, "value": -5}}}
    }},
   {"mark": {"type": "point", "opacity": 0},
    "encoding": {
     "x": {"field": "x", "type": "quantitative", "scale": {"domain": [0, 130], "nice": false, "zero": false}, "axis": {"orient": "bottom", "values": [10,30,50,70,90,110], "labels": false, "title": null, "tickSize": -5}},
     "y": {"field": "y", "type": "quantitative", "scale": {"domain": [-2.4, 0.3], "nice": false, "zero": false}, "axis": {"orient": "left", "values": [0.2,0.1,-0.1,-0.2,-0.3,-0.4,-0.5,-0.6,-0.7,-0.8,-0.9,-1.1,-1.2,-1.3,-1.4,-1.5,-1.6,-1.7,-1.8,-1.9,-2.1,-2.2,-2.3], "labels": false, "title": null, "tickSize": -5}}
    }}
  ]},
 {"width": 635, "height": 179, "data": {"name": "gp"},
  "resolve": {"axis": {"x": "independent", "y": "independent"}},
  "layer": [
   {"transform": [{"filter": "datum.cls !== 'none'"}],
    "mark": {"type": "point", "opacity": 1, "strokeWidth": 1},
    "encoding": {
     "x": {"field": "x", "type": "quantitative", "title": "Galacto-planar distance [kpc]", "scale": {"domain": [0, 130], "nice": false, "zero": false}, "axis": {"orient": "bottom", "values": [0,20,40,60,80,100,120], "format": "d", "tickSize": -9}},
     "y": {"field": "y", "type": "quantitative", "title": "[Fe/H]", "scale": {"domain": [-2.4, 0.3], "nice": false, "zero": false}, "axis": {"orient": "left", "values": [0,-1,-2], "format": "d", "tickSize": -9}},
     "shape": {"field": "cls", "type": "nominal", "scale": {"domain": ["Mᵥ ≥ −7.5 mag", "Mᵥ < −7.5 mag"], "range": ["square", "triangle-up"]}, "legend": {"title": null, "orient": "none", "legendX": 501, "legendY": 11, "padding": 7, "rowPadding": 8, "symbolOffset": 2, "labelOffset": 7}},
     "fill": {"field": "cls", "type": "nominal", "scale": {"domain": ["Mᵥ ≥ −7.5 mag", "Mᵥ < −7.5 mag"], "range": ["#0000ff", "transparent"]}},
     "stroke": {"field": "cls", "type": "nominal", "scale": {"domain": ["Mᵥ ≥ −7.5 mag", "Mᵥ < −7.5 mag"], "range": ["#0000ff", "#ff2020"]}},
     "size": {"field": "cls", "type": "nominal", "scale": {"domain": ["Mᵥ ≥ −7.5 mag", "Mᵥ < −7.5 mag"], "range": [14, 30]}}
    }},
   {"transform": [{"filter": "datum.cls !== 'Mᵥ ≥ −7.5 mag'"}],
    "mark": {"type": "circle", "size": 5, "color": "#00ff00", "opacity": 1},
    "encoding": {
     "x": {"field": "x", "type": "quantitative", "scale": {"domain": [0, 130], "nice": false, "zero": false}, "axis": {"orient": "top", "values": [0,10,20,30,40,50,60,70,80,90,100,110,120], "labels": false, "title": null, "tickSize": {"condition": {"test": "datum.value % 20 === 0", "value": -9}, "value": -5}}},
     "y": {"field": "y", "type": "quantitative", "scale": {"domain": [-2.4, 0.3], "nice": false, "zero": false}, "axis": {"orient": "right", "values": [0.2,0.1,0,-0.1,-0.2,-0.3,-0.4,-0.5,-0.6,-0.7,-0.8,-0.9,-1,-1.1,-1.2,-1.3,-1.4,-1.5,-1.6,-1.7,-1.8,-1.9,-2,-2.1,-2.2,-2.3], "labels": false, "title": null, "tickSize": {"condition": {"test": "datum.value % 1 === 0", "value": -9}, "value": -5}}}
    }},
   {"mark": {"type": "point", "opacity": 0},
    "encoding": {
     "x": {"field": "x", "type": "quantitative", "scale": {"domain": [0, 130], "nice": false, "zero": false}, "axis": {"orient": "bottom", "values": [10,30,50,70,90,110], "labels": false, "title": null, "tickSize": -5}},
     "y": {"field": "y", "type": "quantitative", "scale": {"domain": [-2.4, 0.3], "nice": false, "zero": false}, "axis": {"orient": "left", "values": [0.2,0.1,-0.1,-0.2,-0.3,-0.4,-0.5,-0.6,-0.7,-0.8,-0.9,-1.1,-1.2,-1.3,-1.4,-1.5,-1.6,-1.7,-1.8,-1.9,-2.1,-2.2,-2.3], "labels": false, "title": null, "tickSize": -5}}
    }}
  ]}
]
}
